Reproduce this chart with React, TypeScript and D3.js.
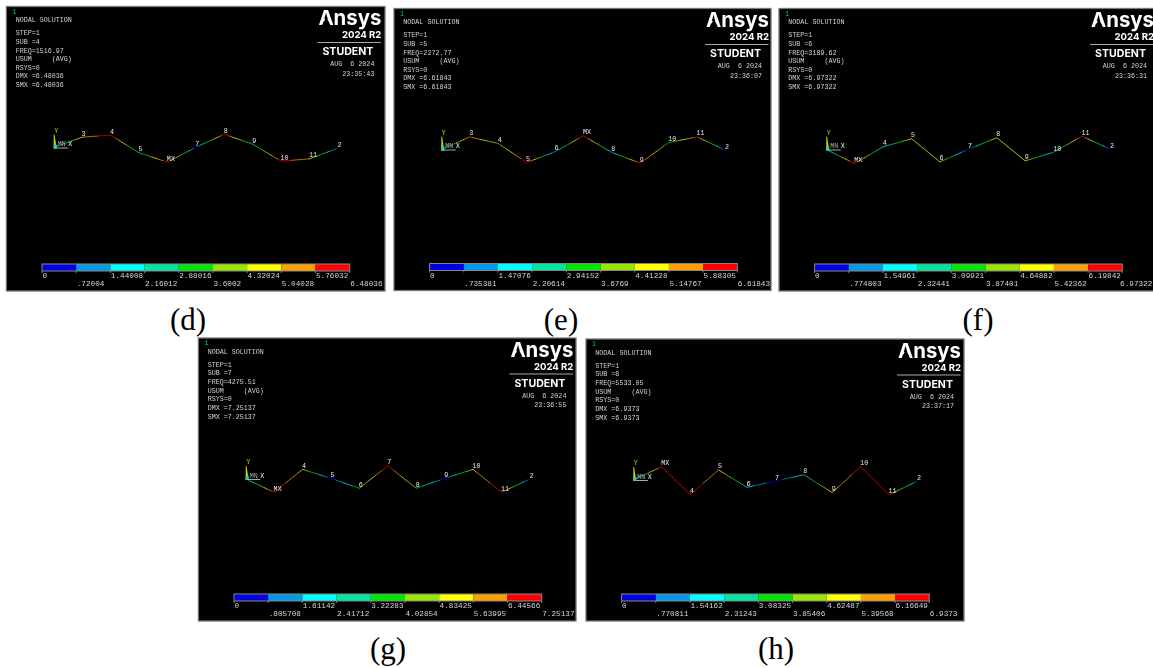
import React from "react";
import * as d3 from "d3";

// contour band colours, low to high
const bandColors = ["#0000e6", "#0099e6", "#00ffff", "#00e6a0", "#00e600", "#99e600", "#ffff00", "#ffa000", "#ff0000"];
const nodeNames = ["MN", "3", "4", "5", "6", "7", "8", "9", "10", "11", "2"];

// legend labels of each mode
const ticksD = ["0", ".72004", "1.44008", "2.16012", "2.88016", "3.6002", "4.32024", "5.04028", "5.76032", "6.48036"];
const ticksE = ["0", ".735381", "1.47076", "2.20614", "2.94152", "3.6769", "4.41228", "5.14767", "5.88305", "6.61843"];
const ticksF = ["0", ".774803", "1.54961", "2.32441", "3.09921", "3.87401", "4.64882", "5.42362", "6.19842", "6.97322"];
const ticksG = ["0", ".805708", "1.61142", "2.41712", "3.22283", "4.02854", "4.83425", "5.63995", "6.44566", "7.25137"];
const ticksH = ["0", ".770811", "1.54162", "2.31243", "3.08325", "3.85406", "4.62487", "5.39568", "6.16649", "6.9373"];

// deflected shape, node by node along the beam
const shapeD = [0, 4.9, 5.9, -2.5, -7, 0.1, 6.3, 1.6, -6.5, -5.4, -0.3];
const shapeE = [0, 6, 2.9, -6.2, -1.1, 6.5, -1.4, -6.5, 3.3, 6, -0.3];
const shapeF = [0, -6.7, 1.3, 5.1, -5.9, 0.1, 5.6, -5.4, -1.3, 6.3, 0.1];
const shapeG = [0, -6.3, 4.6, 0.3, -4.4, 6.3, -4.4, 0.3, 4.6, -6.3, 0];
const shapeH = [0, 6.3, -7, 4.8, -3.5, -0.5, 2.5, -6, 6.3, -7, -0.5];

// USUM at the same nodes (drives the line colour)
const usumD = [1.2, 5, 6.4, 2.2, 6.48, 0.5, 6.3, 2.2, 6.2, 5, 0.4];
const usumE = [1.2, 6, 3.5, 6.4, 1, 6.6, 1.2, 6.4, 3.2, 6.2, 0.2];
const usumF = [0.8, 6.97, 1.5, 5.2, 5, 0.3, 5.3, 5, 1.3, 6.8, 0.2];
const usumG = [0.6, 7.2, 5.4, 0.3, 4, 7, 4, 0.3, 5.4, 7.1, 0.3];
const usumH = [1, 6.9, 6.8, 5.4, 2, 0.2, 2.5, 5, 6.7, 6.8, 0.5];

const mxIndex = [4, 5, 1, 1, 1];
const subSteps = ["4", "5", "6", "7", "8"];
const freqs = ["1516.97", "2272.77", "3189.62", "4275.51", "5533.05"];
const maxes = ["6.48036", "6.61843", "6.97322", "7.25137", "6.9373"];
const times = ["23:35:43", "23:36:07", "23:36:31", "23:36:55", "23:37:17"];
const captions = ["(d)", "(e)", "(f)", "(g)", "(h)"];

// frames: left, top, right, bottom + caption centre and baseline
const frames = [
  { l: 6.4, t: 6.5, r: 385, b: 291, cx: 188, cy: 330 },
  { l: 394, t: 8.5, r: 771, b: 290.5, cx: 561, cy: 330 },
  { l: 779, t: 8.5, r: 1158, b: 291, cx: 978, cy: 330 },
  { l: 198.4, t: 338, r: 576, b: 621, cx: 388, cy: 659 },
  { l: 586, t: 339, r: 964, b: 621, cx: 776, cy: 659 },
];

const panels = frames.map((f, i) => ({
  ...f,
  ticks: [ticksD, ticksE, ticksF, ticksG, ticksH][i],
  shape: [shapeD, shapeE, shapeF, shapeG, shapeH][i],
  usum: [usumD, usumE, usumF, usumG, usumH][i],
  mx: mxIndex[i],
  sub: subSteps[i],
  freq: freqs[i],
  max: maxes[i],
  time: times[i],
  caption: captions[i],
}));

const MONO = "'Liberation Mono', monospace";
const LOGO = "Inter, 'Open Sans', sans-serif";
const GREY = "#d4d4d4";

const x = d3.scaleLinear().domain([0, nodeNames.length - 1]).range([47.3, 331.5]);
const y = d3.scaleLinear().domain([-8, 8]).range([157.8, 124.2]);
const path = d3.line<[number, number]>();

function Beam({ p }: { p: (typeof panels)[number] }) {
  const top = parseFloat(p.ticks[p.ticks.length - 1]);
  const color = d3.scaleQuantize<string>().domain([0, top]).range(bandColors);
  const pieces: React.ReactNode[] = [];
  // cut each element into short pieces so the contour bands show
  d3.pairs(d3.range(p.shape.length)).forEach(([a, b]) => {
    const px = d3.interpolateNumber(x(a), x(b));
    const py = d3.interpolateNumber(y(p.shape[a]), y(p.shape[b]));
    const pu = d3.interpolateNumber(p.usum[a], p.usum[b]);
    d3.pairs(d3.range(0, 1.0001, 1 / 20)).forEach(([t0, t1]) => {
      pieces.push(
        <path
          key={`${a}-${t0}`}
          d={path([[px(t0), py(t0)], [px(t1), py(t1)]]) || ""}
          stroke={color(pu((t0 + t1) / 2))}
          strokeWidth={1}
          strokeOpacity={0.75}
          fill="none"
        />
      );
    });
  });
  return (
    <g>
      {pieces}
      {nodeNames.map((n, i) => {
        const name = i === p.mx ? "MX" : n;
        if (i === 0) return null;
        return (
          <text key={i} x={x(i) - 0.5} y={y(p.shape[i]) - 1.5} fontFamily={MONO} fontSize={6.7} fill="#e8e8e8">
            {name}
          </text>
        );
      })}
    </g>
  );
}

function Triad() {
  const ox = x(0);
  const oy = y(0);
  return (
    <g>
      <path d={`M${ox},${oy - 13} L${ox + 0.8},${oy - 13} L${ox + 3},${oy + 1} L${ox},${oy + 1}Z`} fill="#b8e000" />
      <line x1={ox} x2={ox + 14.5} y1={oy + 0.5} y2={oy + 0.5} stroke="#aaa" strokeWidth={1} />
      <rect x={ox} y={oy - 3} width={3} height={4} fill="#30d0a0" />
      <text x={ox + 0.5} y={oy - 15} fontFamily={MONO} fontSize={6.7} fill="#c8d000">Y</text>
      <text x={ox + 4} y={oy - 1.5} fontFamily={MONO} fontSize={6.7} fill="#aaa">{nodeNames[0]}</text>
      <text x={ox + 14.5} y={oy - 1.5} fontFamily={MONO} fontSize={6.7} fill="#d8ffff">X</text>
    </g>
  );
}

function Legend({ p }: { p: (typeof panels)[number] }) {
  const vals = p.ticks.map(parseFloat);
  const barTop = p.b - p.t - 27;
  const scale = d3.scaleLinear().domain([0, vals[vals.length - 1]]).range([35.6, 343.3]);
  return (
    <g>
      {d3.pairs(vals).map(([a, b], i) => (
        <rect key={i} x={scale(a)} y={barTop} width={scale(b) - scale(a)} height={7} fill={bandColors[i]} />
      ))}
      <rect x={35.6} y={barTop} width={307.7} height={7} fill="none" stroke="#888" strokeWidth={1} />
      {vals.map((v, i) => (
        <line key={i} x1={scale(v)} x2={scale(v)} y1={barTop + 7} y2={barTop + 9} stroke="#999" strokeWidth={0.8} />
      ))}
      {p.ticks.map((t, i) => (
        <text
          key={t}
          // the last label of (f) runs up against the page edge
          x={Math.min(scale(vals[i]) + 0.5, 1152.5 - p.l - t.length * 4.63)}
          y={barTop + (i % 2 === 0 ? 14 : 22)}
          fontFamily={MONO}
          fontSize={7.7}
          fill={GREY}
        >
          {t}
        </text>
      ))}
    </g>
  );
}

function Logo() {
  return (
    <g fill="#fff" fontFamily={LOGO} textAnchor="end">
      <text x={375} y={18.5} fontSize={20.5} fontWeight={700} textLength={63} lengthAdjust="spacingAndGlyphs">Ansys</text>
      {/* the wordmark's A has no crossbar */}
      <path d="M319.9,10.5 L315.8,18.8 L324,18.8Z" fill="#000" />
      <text x={375} y={31.5} fontSize={9.6} fontWeight={700}>2024 R2</text>
      <line x1={311} x2={374.5} y1={36} y2={36} stroke="#aaa" strokeWidth={1.2} />
      <text x={367} y={48.5} fontSize={10.6} fontWeight={700}>STUDENT</text>
    </g>
  );
}

function Panel({ p }: { p: (typeof panels)[number] }) {
  const left = 9.3;
  const rows = ["STEP=1", `SUB =${p.sub}`, `FREQ=${p.freq}`, "USUM     (AVG)", "RSYS=0", `DMX =${p.max}`, `SMX =${p.max}`];
  return (
    <g transform={`translate(${p.l},${p.t})`}>
      <rect x={0} y={0} width={p.r - p.l} height={p.b - p.t} fill="#000" stroke="#777" strokeWidth={1.3} />
      {/* the source is a soft screenshot */}
      <g filter="url(#soft)">
        <text x={6} y={7} fontFamily={MONO} fontSize={6.7} fill="#00c0c0">1</text>
        <g fontFamily={MONO} fontSize={6.7} fill={GREY}>
          <text x={left} y={15.8}>NODAL SOLUTION</text>
          {rows.map((r, i) => (
            <text key={r} x={left} y={28.8 + i * 8.62} xmlSpace="preserve">{r}</text>
          ))}
          <text x={368} y={59.7} textAnchor="end" xmlSpace="preserve">AUG  6 2024</text>
          <text x={368} y={69} textAnchor="end">{p.time}</text>
        </g>
        <Logo />
        <Beam p={p} />
        <Triad />
        <Legend p={p} />
      </g>
    </g>
  );
}

export default function App() {
  return (
    <svg width={1153} height={668} style={{ position: "fixed", left: 0, top: 0, background: "#fff" }}>
      <defs>
        <filter id="soft" x="-2%" y="-2%" width="104%" height="104%">
          <feGaussianBlur stdDeviation={0.3} />
        </filter>
      </defs>
      {panels.map((p) => (
        <React.Fragment key={p.caption}>
          <Panel p={p} />
          <text x={p.cx} y={p.cy} textAnchor="middle" fontFamily="'Liberation Serif', serif" fontSize={31} fill="#000">
            {p.caption}
          </text>
        </React.Fragment>
      ))}
    </svg>
  );
}
